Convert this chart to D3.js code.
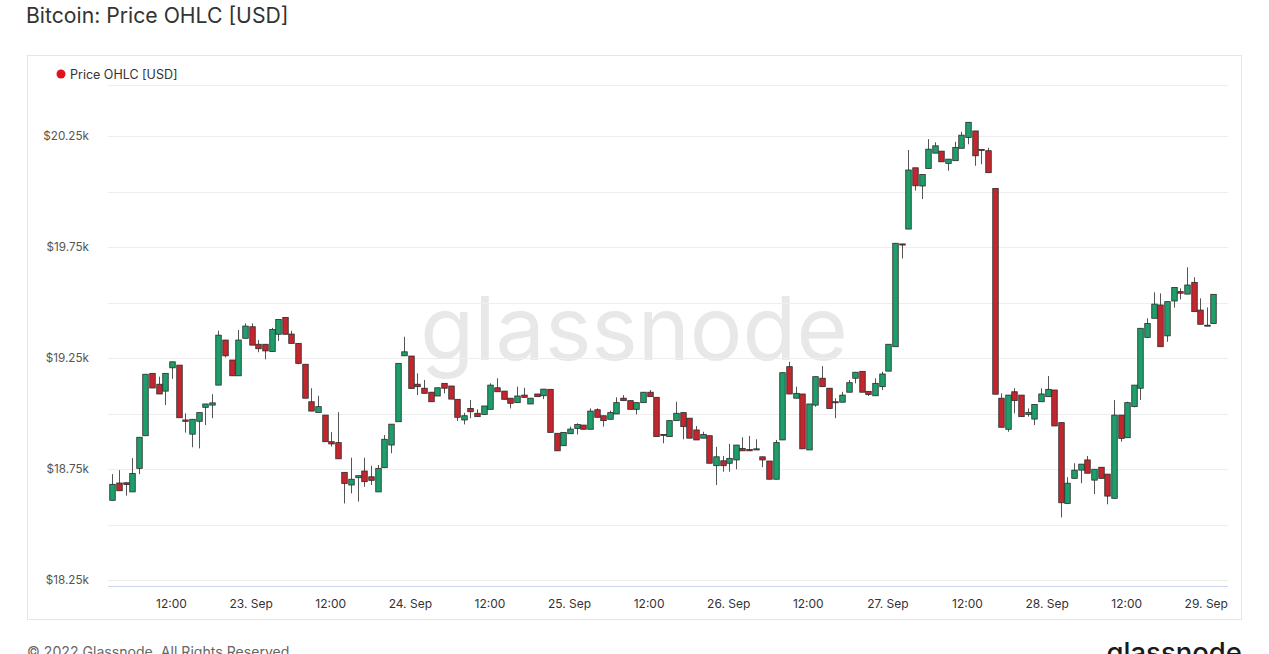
<!DOCTYPE html>
<html><head><meta charset="utf-8">
<script src="https://cdn.jsdelivr.net/npm/d3@7"></script>
<style>
html,body{margin:0;padding:0;background:#fff;}
svg{display:block;font-family:Inter,"Open Sans",sans-serif;}
</style></head>
<body>
<svg id="c" width="1269" height="654"></svg>
<script>
// ---- data (hourly candles, first one at 22 Sep 2022 03:00 UTC) ----
const firstCandle = "2022-09-22T03:00:00Z";
const open = [18609,18687,18688,18647,18753,18900,19181,19132,19101,19206,19218,18971,18907,18965,19028,19038,19128,19331,19241,19170,19339,19391,19312,19312,19279,19357,19433,19358,19316,19222,19053,19005,18993,18873,18869,18735,18678,18711,18741,18715,18647,18756,18858,18963,19260,19259,19132,19114,19096,19079,19136,19124,19064,18971,19023,19001,18996,19019,19116,19101,19069,19049,19083,19043,19088,19080,19109,18911,18855,18909,18933,18948,18929,19017,18990,18974,18998,19069,19058,19019,19049,19096,19073,18906,18896,18968,19004,18979,18926,18889,18900,18765,18787,18776,18791,18843,18838,18836,18805,18786,18704,18881,19211,19069,19088,18836,19038,19159,19114,19053,19051,19096,19159,19190,19100,19080,19121,19191,19301,19764,19831,20107,20025,20104,20173,20182,20127,20139,20195,20244,20273,20190,20184,20014,19069,18929,19098,19083,18996,18975,19053,19076,19106,18959,18595,18708,18745,18791,18700,18758,18727,18618,18993,18891,19031,19114,19343,19429,19489,19350,19507,19549,19538,19591,19466,19398,19406];
const high = [18727,18745,18690,18799,18893,19177,19181,19166,19181,19233,19218,19001,18974,19004,19043,19087,19373,19331,19241,19376,19406,19406,19331,19312,19386,19424,19433,19373,19316,19222,19114,19080,18993,18916,19006,18735,18801,18720,18801,18765,18768,18903,18952,19226,19346,19259,19181,19151,19096,19116,19136,19124,19064,19003,19061,19019,19034,19136,19159,19101,19069,19121,19116,19069,19088,19110,19109,18911,18915,18941,18956,18948,19023,19023,18990,19013,19073,19083,19058,19049,19096,19106,19073,18906,18968,19053,19004,18979,18944,18918,18900,18850,18809,18863,18858,18893,18899,18884,18805,18786,18881,19184,19233,19121,19088,19043,19166,19214,19114,19069,19098,19151,19186,19190,19100,19159,19188,19312,19767,19764,20187,20107,20077,20236,20222,20182,20146,20224,20269,20312,20273,20190,20197,20014,19091,19083,19114,19083,19023,19041,19114,19169,19106,18959,18713,18776,18772,18809,18749,18758,18727,19061,18993,19053,19128,19384,19429,19546,19541,19504,19568,19564,19659,19614,19519,19478,19537];
const low = [18609,18652,18630,18647,18727,18900,19115,19088,19038,19156,18981,18914,18848,18843,18948,18979,19128,19253,19170,19170,19339,19308,19276,19244,19279,19327,19357,19316,19222,19069,19011,19005,18873,18851,18796,18595,18640,18603,18670,18678,18647,18756,18821,18963,19260,19113,19083,19091,19053,19079,19091,19065,18966,18951,18979,18986,18996,19019,19098,19064,19023,19049,19071,19043,19076,19065,18915,18832,18855,18909,18906,18929,18929,18983,18941,18974,18998,19058,19019,18996,19049,19076,18896,18866,18896,18968,18884,18889,18881,18889,18776,18678,18738,18738,18749,18832,18832,18836,18758,18704,18704,18881,19088,19069,18841,18836,19031,19121,19023,18979,19051,19096,19136,19096,19079,19080,19106,19191,19301,19699,19831,20004,19966,20104,20173,20134,20094,20139,20195,20213,20116,20123,20085,19087,18938,18918,19001,18986,18986,18948,19053,19076,18944,18532,18595,18708,18686,18731,18637,18708,18591,18618,18873,18891,19028,19061,19343,19429,19301,19323,19477,19514,19538,19459,19402,19394,19406];
const close = [18681,18652,18680,18730,18893,19177,19115,19088,19181,19233,18981,18965,18974,19004,19043,19048,19353,19260,19170,19331,19394,19308,19292,19282,19379,19424,19357,19316,19226,19069,19011,19031,18873,18863,18796,18685,18704,18720,18693,18699,18753,18884,18952,19226,19278,19113,19121,19091,19053,19116,19114,19065,18983,18990,19008,18986,19034,19128,19098,19064,19046,19079,19073,19069,19076,19110,18915,18832,18915,18930,18951,18929,19011,18983,18968,19004,19049,19058,19019,19049,19096,19076,18896,18902,18968,19001,18941,18889,18881,18906,18776,18805,18765,18798,18858,18832,18832,18841,18791,18704,18869,19184,19088,19091,18841,19043,19166,19121,19023,19049,19083,19139,19186,19096,19086,19136,19178,19312,19767,19759,20097,20026,20077,20191,20206,20134,20146,20199,20254,20312,20161,20186,20085,19087,18938,19083,19058,18986,19005,19041,19088,19109,18944,18598,18686,18745,18772,18731,18749,18708,18628,18993,18888,19049,19128,19384,19406,19493,19301,19504,19568,19542,19579,19459,19402,19394,19537];
const yTicks = [18250,18750,19250,19750,20250];
const yGrid = [18250,18500,18750,19000,19250,19500,19750,20000,20250];
const xTickTimes = ["2022-09-22T12:00:00Z","2022-09-23T00:00:00Z","2022-09-23T12:00:00Z","2022-09-24T00:00:00Z","2022-09-24T12:00:00Z","2022-09-25T00:00:00Z","2022-09-25T12:00:00Z","2022-09-26T00:00:00Z","2022-09-26T12:00:00Z","2022-09-27T00:00:00Z","2022-09-27T12:00:00Z","2022-09-28T00:00:00Z","2022-09-28T12:00:00Z","2022-09-29T00:00:00Z"];
const xTickLabels = ["12:00","23. Sep","12:00","24. Sep","12:00","25. Sep","12:00","26. Sep","12:00","27. Sep","12:00","28. Sep","12:00","29. Sep"];

const HOUR = 3600e3;
const t0 = new Date(firstCandle).getTime();
const candles = open.map((o,i)=>({t:new Date(t0+i*HOUR),o,h:high[i],l:low[i],c:close[i]}));

const svg = d3.select("#c");
const plot = {left:108, right:1228, top:85, bottom:586};

// title
svg.append("text").attr("x",26).attr("y",23).attr("font-size",21.2).attr("fill","#333")
  .text("Bitcoin: Price OHLC [USD]");

// chart frame
svg.append("rect").attr("x",27.5).attr("y",55.5).attr("width",1214).attr("height",564)
  .attr("fill","none").attr("stroke","#e6e6e6");

// legend
svg.append("circle").attr("cx",61).attr("cy",74).attr("r",4.5).attr("fill","#e0121d");
svg.append("text").attr("x",70).attr("y",78.5).attr("font-size",12.5).attr("fill","#333").text("Price OHLC [USD]");

// scales
const x = d3.scaleUtc()
  .domain([new Date(Date.UTC(2022,8,22,2,21)), new Date(Date.UTC(2022,8,29,3,12))])
  .range([plot.left, plot.right]);
const y = d3.scaleLinear().domain([18223, 20480]).range([plot.bottom, plot.top]);

// watermark
svg.append("text").attr("x",634).attr("y",360).attr("text-anchor","middle")
  .attr("font-size",88).attr("font-weight",400).attr("fill","#e8e8e8")
  .text("glassnode");

// grid
svg.append("g").selectAll("line").data(yGrid).join("line")
  .attr("x1",plot.left).attr("x2",plot.right)
  .attr("y1",d=>Math.round(y(d))+0.5).attr("y2",d=>Math.round(y(d))+0.5)
  .attr("stroke","#eeeeee").attr("stroke-width",1);
svg.append("line").attr("x1",plot.left).attr("x2",plot.right)
  .attr("y1",plot.top+0.5).attr("y2",plot.top+0.5).attr("stroke","#eeeeee");

// y axis labels
const yAxis = d3.axisLeft(y).tickValues(yTicks).tickSize(0).tickPadding(0)
  .tickFormat(d=>"$"+d3.format(".2f")(d/1000)+"k");
const gy = svg.append("g").attr("transform",`translate(${plot.left-19},0)`).call(yAxis);
gy.select(".domain").remove();
gy.selectAll("text").attr("font-size",11.7).attr("fill","#555").attr("font-family","Inter,sans-serif");

// x axis
svg.append("line").attr("x1",plot.left).attr("x2",plot.right).attr("y1",plot.bottom+0.5).attr("y2",plot.bottom+0.5)
  .attr("stroke","#ccd6eb");
const xAxis = d3.axisBottom(x).tickValues(xTickTimes.map(s=>new Date(s)))
  .tickSize(0).tickPadding(0).tickFormat((d,i)=>xTickLabels[i]);
const gx = svg.append("g").attr("transform",`translate(-1,${plot.bottom+13})`).call(xAxis);
gx.select(".domain").remove();
gx.selectAll("text").attr("font-size",12).attr("fill","#333").attr("font-family","Inter,sans-serif");

// candles
const bw = 5.5;
const g = svg.append("g");
const cg = g.selectAll("g").data(candles).join("g");
cg.append("line")
  .attr("x1",d=>Math.round(x(d.t))+0.5).attr("x2",d=>Math.round(x(d.t))+0.5)
  .attr("y1",d=>y(d.h)).attr("y2",d=>y(d.l))
  .attr("stroke","#555").attr("stroke-width",1);
cg.append("rect")
  .attr("x",d=>Math.round(x(d.t))-bw/2+0.5)
  .attr("y",d=>y(Math.max(d.o,d.c)))
  .attr("width",bw)
  .attr("height",d=>Math.max(1,Math.abs(y(d.o)-y(d.c))))
  .attr("fill",d=>d.c>=d.o?"#1e9e6a":"#c4262e")
  .attr("stroke","#2b2b2b").attr("stroke-width",0.8);

// footer (cut by the bottom edge, as in the reference)
svg.append("text").attr("x",27).attr("y",657).attr("font-size",14.1).attr("fill","#666")
  .text("© 2022 Glassnode. All Rights Reserved");
svg.append("text").attr("x",1242).attr("y",662).attr("text-anchor","end").attr("font-size",27.5)
  .attr("font-weight",500).attr("fill","#1a1a1a").text("glassnode");
</script>
</body></html>
